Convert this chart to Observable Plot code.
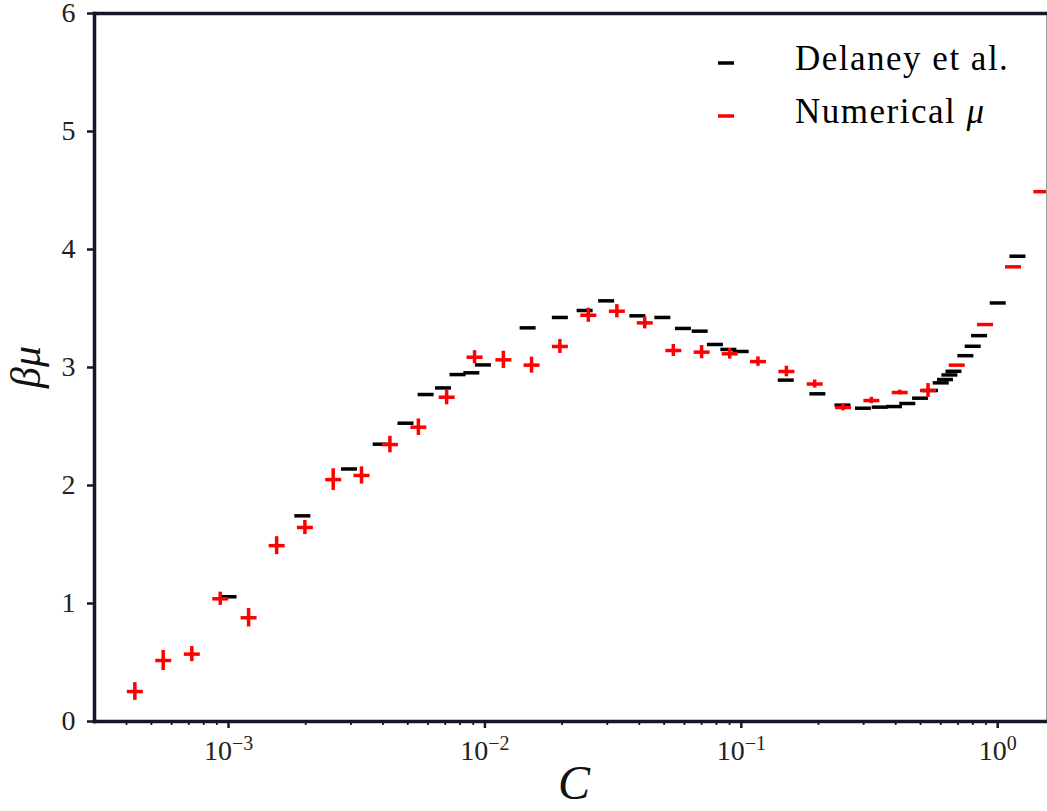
<!DOCTYPE html>
<html>
<head>
<meta charset="utf-8">
<script src="https://cdn.jsdelivr.net/npm/d3@7"></script>
<script src="https://cdn.jsdelivr.net/npm/@observablehq/plot@0.6"></script>
<style>
  html, body { margin: 0; padding: 0; background: #fff; }
  #chart svg { display: block; }
</style>
</head>
<body>
<div id="chart"></div>
<script>
// ---- Data ----
const delaneyC = [1.0e-3, 1.94e-3, 2.95e-3, 3.92e-3, 4.90e-3, 5.87e-3, 6.86e-3, 7.82e-3, 8.85e-3, 9.82e-3,
  1.467e-2, 1.96e-2, 2.448e-2, 2.97e-2, 3.93e-2, 4.92e-2, 5.92e-2, 6.88e-2, 7.89e-2, 8.90e-2, 9.94e-2,
  0.149, 0.198, 0.248, 0.298, 0.3465, 0.394, 0.444, 0.498, 0.544, 0.5995, 0.623, 0.648, 0.672,
  0.748, 0.799, 0.846, 1.0, 1.194];
const delaneyMu = [1.057, 1.743, 2.14, 2.35, 2.528, 2.771, 2.827, 2.94, 2.955, 3.022,
  3.336, 3.424, 3.483, 3.565, 3.438, 3.424, 3.331, 3.308, 3.195, 3.153, 3.136,
  2.893, 2.777, 2.681, 2.655, 2.664, 2.669, 2.695, 2.74, 2.805, 2.87, 2.898, 2.937, 2.968,
  3.10, 3.18, 3.27, 3.547, 3.943];

const numericalC = [4.31e-4, 5.56e-4, 7.19e-4, 9.28e-4, 1.197e-3, 1.54e-3, 1.985e-3, 2.56e-3, 3.30e-3, 4.26e-3,
  5.50e-3, 7.09e-3, 9.11e-3, 1.18e-2, 1.52e-2, 1.96e-2, 2.53e-2, 3.27e-2, 4.20e-2, 5.43e-2,
  7.00e-2, 9.01e-2, 0.1161, 0.1499, 0.1933, 0.2492, 0.3216, 0.4148, 0.5348, 0.692, 0.8925, 1.147, 1.48];
const numericalMu = [0.254, 0.517, 0.571, 1.04, 0.879, 1.49, 1.644, 2.05, 2.085, 2.347,
  2.494, 2.748, 3.087, 3.065, 3.02, 3.178, 3.443, 3.477, 3.378, 3.144,
  3.13, 3.116, 3.05, 2.966, 2.86, 2.661, 2.72, 2.788, 2.805, 3.02, 3.364, 3.853, 4.49];
const numericalErr = [0.075, 0.085, 0.064, 0.056, 0.078, 0.076, 0.06, 0.092, 0.073, 0.07,
  0.07, 0.064, 0.056, 0.073, 0.068, 0.059, 0.06, 0.056, 0.051, 0.051,
  0.056, 0.045, 0.04, 0.045, 0.034, 0.028, 0.027, 0.02, 0.059, 0, 0, 0, 0];

const yTicks = [0, 1, 2, 3, 4, 5, 6];
const xMajorTicks = [1e-3, 1e-2, 1e-1, 1];
const xMajorLabels = ["−3", "−2", "−1", "0"];
const xMinorTicks = [4e-4, 5e-4, 6e-4, 7e-4, 8e-4, 9e-4,
  2e-3, 3e-3, 4e-3, 5e-3, 6e-3, 7e-3, 8e-3, 9e-3,
  2e-2, 3e-2, 4e-2, 5e-2, 6e-2, 7e-2, 8e-2, 9e-2,
  2e-1, 3e-1, 4e-1, 5e-1, 6e-1, 7e-1, 8e-1, 9e-1];
const seriesNames = ["Delaney et al.", "Numerical "];
const seriesColors = ["#000000", "#ff0000"];
const xLabel = "C";
const yLabel = "βμ";

// ---- Tables ----
const delaney = delaneyC.map((c, i) => ({C: c, mu: delaneyMu[i]}));
const numerical = numericalC.map((c, i) => ({C: c, mu: numericalMu[i], err: numericalErr[i]}));

// horizontal dash marker (matplotlib "_")
const dash = {
  draw(ctx, size) {
    const r = Math.sqrt(size / Math.PI);
    ctx.moveTo(-r, 0);
    ctx.lineTo(r, 0);
  }
};

const spine = "#16162a";
const W = 1047, H = 811;
const mL = 94, mR = 1, mT = 13, mB = 90;
const serif = "'Liberation Serif', 'DejaVu Serif', serif";

const chart = Plot.plot({
  width: W,
  height: H,
  marginLeft: mL,
  marginRight: mR,
  marginTop: mT,
  marginBottom: mB,
  x: {type: "log", domain: [3e-4, 1.55]},
  y: {domain: [0, 6]},
  style: {fontFamily: serif, background: "#fff", color: "#222"},
  marks: [
    Plot.axisY(yTicks, {tickSize: 7, tickPadding: 12, fontSize: 28, stroke: spine, strokeWidth: 2.5,
      fill: "#222", label: null, tickFormat: d => String(d)}),
    Plot.axisX(xMajorTicks, {tickSize: 7, tickPadding: 12, fontSize: 28, stroke: spine, strokeWidth: 2.5,
      fill: "#222", label: null, tickFormat: d => "10^" + xMajorLabels[xMajorTicks.indexOf(d)]}),
    Plot.axisX(xMinorTicks, {tickSize: 4, stroke: spine, strokeWidth: 1.8, text: null, label: null}),
    Plot.dot(delaney, {x: "C", y: "mu", symbol: dash, r: 8, fill: "none",
      stroke: seriesColors[0], strokeWidth: 3.5, strokeLinecap: "butt"}),
    Plot.ruleX(numerical.filter(d => d.err > 0), {x: "C", y1: d => d.mu - d.err, y2: d => d.mu + d.err,
      stroke: seriesColors[1], strokeWidth: 3.5}),
    Plot.dot(numerical, {x: "C", y: "mu", symbol: dash, r: 8, fill: "none",
      stroke: seriesColors[1], strokeWidth: 3.5, strokeLinecap: "butt"}),
    Plot.frame({anchor: "right", stroke: "#9a9a9a", strokeWidth: 1}),
    Plot.frame({anchor: "left", stroke: spine, strokeWidth: 3.5}),
    Plot.frame({anchor: "bottom", stroke: spine, strokeWidth: 3.5}),
    Plot.frame({anchor: "top", stroke: spine, strokeWidth: 3.5})
  ]
});

document.getElementById("chart").appendChild(chart);

const svg = d3.select(chart);

// superscript tick labels: 10^k
svg.selectAll("text").each(function() {
  const t = d3.select(this);
  const s = this.textContent;
  if (s.startsWith("10^")) {
    const exp = s.slice(3);
    t.text(null);
    t.append("tspan").text("10");
    t.append("tspan").attr("font-size", 20).attr("dy", -10).text(exp);
  }
});

// axis labels
svg.append("text")
  .attr("transform", "translate(40,367) rotate(-90)")
  .attr("text-anchor", "middle")
  .attr("font-family", serif)
  .attr("font-size", 42)
  .attr("font-style", "italic")
  .attr("fill", "#111")
  .text(yLabel);

svg.append("text")
  .attr("x", 574)
  .attr("y", 799)
  .attr("text-anchor", "middle")
  .attr("font-family", serif)
  .attr("font-size", 48)
  .attr("font-style", "italic")
  .attr("fill", "#111")
  .text(xLabel);

// legend
const legend = svg.append("g")
  .attr("font-family", serif)
  .attr("text-anchor", "start");
const legendY = [63, 116];
seriesNames.forEach((name, i) => {
  legend.append("line")
    .attr("x1", 718).attr("x2", 734)
    .attr("y1", legendY[i]).attr("y2", legendY[i])
    .attr("stroke", seriesColors[i]).attr("stroke-width", 3.5);
  const t = legend.append("text")
    .attr("x", 795).attr("y", legendY[i] + 7)
    .attr("text-anchor", "start")
    .attr("font-size", 35)
    .attr("letter-spacing", 1.5)
    .attr("fill", "#000")
    .text(name);
  if (i === 1) t.append("tspan").attr("font-style", "italic").text("μ");
});
</script>
</body>
</html>
